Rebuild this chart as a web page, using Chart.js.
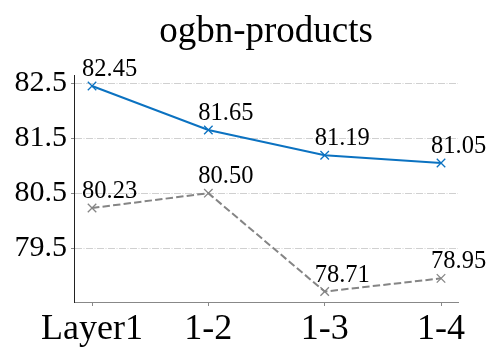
<!DOCTYPE html>
<html>
<head>
  <meta charset="UTF-8">
  <title>ogbn-products</title>
  <script src="https://cdn.jsdelivr.net/npm/chart.js"></script>
  <style>
    body { margin: 0; background: #fff; }
    #wrap { width: 498px; height: 356px; }
  </style>
</head>
<body>
  <div id="wrap"><canvas id="chart" width="498" height="356"></canvas></div>
  <script>
    const title = 'ogbn-products';
    const layers = ['Layer1', '1-2', '1-3', '1-4'];
    const blueValues = [82.45, 81.65, 81.19, 81.05];
    const grayValues = [80.23, 80.50, 78.71, 78.95];
    const yTicks = [79.5, 80.5, 81.5, 82.5];

    const serif = "'Liberation Serif', 'Times New Roman', serif";

    // value labels + title, drawn from the point positions
    const labelPlugin = {
      id: 'labels',
      afterDatasetsDraw(chart) {
        const ctx = chart.ctx;
        ctx.save();
        ctx.fillStyle = '#000';
        ctx.font = '24.5px ' + serif;
        ctx.textAlign = 'left';
        ctx.textBaseline = 'alphabetic';
        chart.data.datasets.forEach((ds, i) => {
          chart.getDatasetMeta(i).data.forEach((pt, j) => {
            ctx.fillText(ds.data[j].y.toFixed(2), pt.x - 10, pt.y - 10);
          });
        });
        const a = chart.chartArea;
        ctx.font = '37px ' + serif;
        ctx.textAlign = 'center';
        ctx.fillText(title, (a.left + a.right) / 2, 42);
        ctx.restore();
      }
    };

    const toPoints = vals => vals.map((v, i) => ({ x: i, y: v }));

    new Chart(document.getElementById('chart'), {
      type: 'line',
      data: {
        datasets: [
          {
            data: toPoints(blueValues),
            borderColor: '#0b72c1',
            borderWidth: 2,
            pointStyle: 'crossRot',
            pointRadius: 6,
            pointBorderWidth: 1.3,
            pointBorderColor: '#0b72c1',
            fill: false,
            tension: 0
          },
          {
            data: toPoints(grayValues),
            borderColor: '#858585',
            borderWidth: 2,
            borderDash: [7.4, 3.2],
            pointStyle: 'crossRot',
            pointRadius: 6,
            pointBorderWidth: 1.3,
            pointBorderColor: '#858585',
            fill: false,
            tension: 0
          }
        ]
      },
      options: {
        responsive: false,
        animation: false,
        devicePixelRatio: 1,
        layout: { padding: { left: 0, top: 75, right: 40, bottom: 0 } },
        plugins: { legend: { display: false }, tooltip: { enabled: false } },
        scales: {
          x: {
            type: 'linear',
            min: -0.155,
            max: 3.146,
            afterBuildTicks: s => { s.ticks = layers.map((l, i) => ({ value: i })); },
            afterFit: s => { s.height = 54; },
            ticks: {
              callback: v => layers[v],
              color: '#000',
              font: { family: serif, size: 36 },
              padding: 2,
              maxRotation: 0,
              autoSkip: false
            },
            grid: { drawOnChartArea: false, drawTicks: true, tickLength: 4, tickColor: '#888' },
            border: { color: '#888', width: 1 }
          },
          y: {
            min: 78.52,
            max: 82.65,
            afterBuildTicks: s => { s.ticks = yTicks.map(v => ({ value: v })); },
            afterFit: s => { s.width = 74; },
            ticks: {
              callback: v => v.toFixed(1),
              color: '#000',
              font: { family: serif, size: 30 },
              padding: 4
            },
            grid: { color: '#d0d0d0', lineWidth: 1, tickLength: 3, tickColor: '#888' },
            border: { color: '#222', width: 1, dash: [7, 1.5, 1, 1.5] }
          }
        }
      },
      plugins: [labelPlugin]
    });
  </script>
</body>
</html>
